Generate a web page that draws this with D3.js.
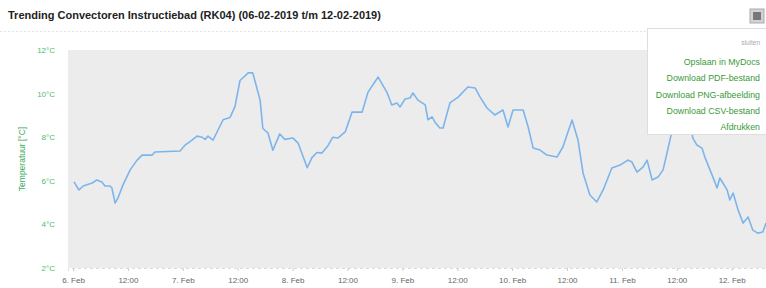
<!DOCTYPE html>
<html lang="nl">
<head>
<meta charset="UTF-8">
<script src="https://d3js.org/d3.v7.min.js"></script>
<style>
  body { margin: 0; background: #fff; font-family: "Liberation Sans", Arial, sans-serif; }
  #chart { position: relative; width: 766px; height: 288px; overflow: hidden; }
</style>
</head>
<body>
<div id="chart"></div>
<script>
// uren sinds 6 feb 2019 00:00
const hours = [0.2, 1.3, 2.2, 4.2, 5.2, 6.3, 7.0, 8.1, 8.5, 9.2, 9.8, 10.9, 12.5, 14.0, 15.1, 17.3, 17.9, 23.4,
  24.5, 26.0, 27.1, 28.2, 28.9, 29.5, 30.6, 31.7, 32.8, 34.3, 35.4, 36.5, 38.3, 39.3, 40.9, 41.5, 42.6, 43.7,
  45.2, 46.3, 48.1, 49.2, 51.2, 52.2, 53.3, 54.4, 55.7, 56.8, 57.9, 59.5, 61.0, 63.2, 64.5, 66.7, 68.6, 69.7,
  70.8, 71.5, 72.6, 73.7, 74.3, 75.4, 77.0, 77.6, 78.5, 79.1, 80.2, 80.9, 82.4, 84.2, 86.3, 87.9, 89.0, 90.5,
  92.2, 94.0, 95.1, 96.2, 98.4, 99.5, 100.6, 102.1, 103.6, 105.8, 107.1, 109.1, 110.4, 111.5, 113.0, 114.5,
  115.9, 117.8, 119.6, 121.3, 122.2, 123.3, 124.6, 125.5, 126.6, 127.9, 129.0, 130.1, 130.9, 132.7, 134.4,
  135.5, 136.4, 137.5, 138.2, 139.9, 140.8, 141.4, 143.0, 143.6, 144.3, 145.4, 146.5, 147.6, 148.6, 149.7,
  150.8, 151.5];
const temps = [5.95, 5.58, 5.76, 5.9, 6.04, 5.95, 5.76, 5.76, 5.67, 4.98, 5.2, 5.8, 6.5, 6.95, 7.18, 7.18, 7.32, 7.37,
  7.64, 7.87, 8.05, 8.0, 7.9, 8.05, 7.87, 8.33, 8.8, 8.9, 9.4, 10.6, 10.95, 10.95, 9.7, 8.4, 8.2, 7.4,
  8.15, 7.9, 7.96, 7.73, 6.6, 7.05, 7.3, 7.27, 7.6, 8.0, 7.96, 8.24, 9.15, 9.15, 10.07, 10.76, 10.07, 9.48,
  9.57, 9.39, 9.75, 9.8, 10.03, 9.7, 9.48, 8.8, 8.93, 8.7, 8.42, 8.42, 9.57, 9.84, 10.3, 10.26, 9.84, 9.34,
  9.02, 9.25, 8.47, 9.25, 9.25, 8.47, 7.5, 7.41, 7.18, 7.09, 7.55, 8.79, 7.87, 6.36, 5.35, 5.03,
  5.58, 6.59, 6.72, 6.95, 6.86, 6.4, 6.63, 6.95, 6.04, 6.17, 6.5, 7.5, 8.24, 9.25, 9.34,
  7.96, 7.64, 7.5, 7.05, 6.17, 5.67, 6.13, 5.58, 5.12, 5.44, 4.66, 4.06, 4.34, 3.74, 3.6,
  3.65, 4.06];
const yTicks = [2, 4, 6, 8, 10, 12];
const dayLabels = ["6. Feb", "7. Feb", "8. Feb", "9. Feb", "10. Feb", "11. Feb", "12. Feb"];
const menuItems = ["Opslaan in MyDocs", "Download PDF-bestand", "Download PNG-afbeelding", "Download CSV-bestand", "Afdrukken"];

const W = 766, H = 288;
const plot = { left: 68, right: 766, top: 50, bottom: 268 };
const t0 = new Date(2019, 1, 6, 0, 0);
const toDate = h => new Date(t0.getTime() + h * 3600e3);

const svg = d3.select("#chart").append("svg").attr("width", W).attr("height", H);

// titel
svg.append("text")
  .attr("x", 8).attr("y", 19)
  .attr("font-size", "11px").attr("font-weight", "bold").attr("fill", "#222")
  .text("Trending Convectoren Instructiebad (RK04) (06-02-2019 t/m 12-02-2019)");
svg.append("line")
  .attr("x1", 0).attr("x2", W).attr("y1", 31.5).attr("y2", 31.5)
  .attr("stroke", "#e4e4e4").attr("stroke-dasharray", "2,2");

// schalen
const x = d3.scaleTime().domain([toDate(-1.1), toDate(151.5)]).range([plot.left, plot.right]);
const y = d3.scaleLinear().domain([2, 12]).range([plot.bottom, plot.top]);

svg.append("rect")
  .attr("x", plot.left).attr("y", plot.top)
  .attr("width", plot.right - plot.left).attr("height", plot.bottom - plot.top)
  .attr("fill", "#ececec");

// y-as
const yAxis = svg.append("g")
  .attr("transform", `translate(${plot.left - 10},0)`)
  .call(d3.axisLeft(y).tickValues(yTicks).tickSize(0).tickFormat(d => d + "°C"));
yAxis.select(".domain").remove();
yAxis.selectAll("text").attr("fill", "#4cbb6c").attr("font-size", "8px").attr("font-family", "Liberation Sans, Arial");

svg.append("text")
  .attr("transform", `translate(25,${(plot.top + plot.bottom) / 2}) rotate(-90)`)
  .attr("text-anchor", "middle").attr("font-size", "8.5px").attr("fill", "#3aa85a")
  .text("Temperatuur [°C]");

// x-as
const xTickDates = d3.range(0, 6 * 24 + 1, 12).map(toDate);
const xAxis = svg.append("g")
  .attr("transform", `translate(0,${plot.bottom})`)
  .call(d3.axisBottom(x).tickValues(xTickDates).tickSize(3).tickPadding(6)
    .tickFormat(d => d.getHours() === 12 ? "12:00" : dayLabels[Math.round((d - t0) / 864e5)]));
xAxis.select(".domain").attr("stroke", "#dcdcdc").attr("stroke-dasharray", "3,3");
xAxis.selectAll(".tick line").attr("stroke", "#ccc");
xAxis.selectAll("text").attr("fill", "#666").attr("font-size", "8px").attr("font-family", "Liberation Sans, Arial");

// lijn
const line = d3.line()
  .x((d, i) => x(toDate(hours[i])))
  .y(d => y(d));
svg.append("path")
  .datum(temps)
  .attr("fill", "none")
  .attr("stroke", "#7cb5ec")
  .attr("stroke-width", 1.6)
  .attr("stroke-linejoin", "round")
  .attr("d", line);

// exportknop
svg.append("rect")
  .attr("x", 750).attr("y", 9).attr("width", 14).attr("height", 14)
  .attr("fill", "#cfd3d8").attr("stroke", "#aaa");
svg.append("rect")
  .attr("x", 753).attr("y", 12).attr("width", 8).attr("height", 8)
  .attr("fill", "#777");

// menu
const menu = svg.append("g");
menu.append("rect")
  .attr("x", 647.5).attr("y", 28.5).attr("width", 125).attr("height", 106)
  .attr("fill", "#fff").attr("stroke", "#ddd");
menu.append("text")
  .attr("x", 760).attr("y", 45).attr("text-anchor", "end")
  .attr("font-size", "6.5px").attr("fill", "#aaa").text("sluiten");
menu.selectAll("text.item")
  .data(menuItems)
  .join("text")
  .attr("class", "item")
  .attr("x", 760)
  .attr("y", (d, i) => 65 + i * 16.3)
  .attr("text-anchor", "end")
  .attr("font-size", "8.8px")
  .attr("fill", "#3a9a3a")
  .text(d => d);
</script>
</body>
</html>
